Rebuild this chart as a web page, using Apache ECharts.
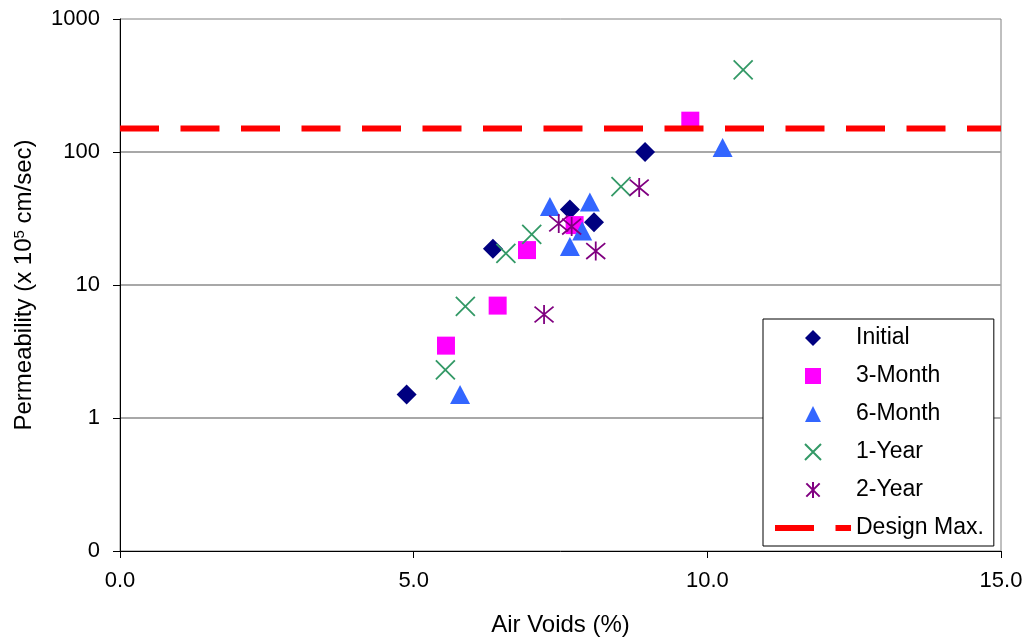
<!DOCTYPE html>
<html>
<head>
<meta charset="utf-8">
<script src="https://cdn.jsdelivr.net/npm/echarts@6/dist/echarts.min.js"></script>
<style>
  html, body { margin: 0; padding: 0; background: #ffffff; }
  #chart { width: 1029px; height: 642px; }
</style>
</head>
<body>
<div id="chart"></div>
<script>
// Air voids (%) vs. permeability (x 10^5 cm/sec), one list per test age
const initial = [[4.88, 1.5], [6.35, 18.7], [7.66, 37], [8.07, 29.6], [8.94, 100]];
const month3  = [[5.55, 3.5], [6.43, 7.0], [6.93, 18.3], [7.74, 28.2], [9.71, 172]];
const month6  = [[5.79, 1.5], [7.32, 39], [7.66, 19.5], [7.87, 25.5], [8.00, 42], [10.26, 108]];
const year1   = [[5.54, 2.3], [5.88, 6.9], [6.57, 17.3], [7.01, 24], [8.53, 55], [10.61, 415]];
const year2   = [[7.22, 6.0], [7.47, 29], [7.69, 27.5], [8.10, 18], [8.84, 54]];

// design limit drawn across the full x range
const designMax = 150;
const xRange = [0, 15];
const yRange = [0.1, 1000];

const seriesNames = ['Initial', '3-Month', '6-Month', '1-Year', '2-Year', 'Design Max.'];

const FONT = 'Liberation Sans, Arial, sans-serif';
const X_MARK = 'path://M0,0L10,10M10,0L0,10';
const STAR_MARK = 'path://M0,0L10,10M10,0L0,10M5,-1L5,11';
const DASH = [39, 21.5];

// square-proportioned legend icons (legend boxes are wider than tall)
const legendIcons = {
  'Initial': 'path://M5,0L10,5L5,10L0,5Z',
  '3-Month': 'path://M0,0L10,0L10,10L0,10Z',
  '6-Month': 'path://M5,0L10,10L0,10Z'
};

const chart = echarts.init(document.getElementById('chart'), null, { renderer: 'canvas' });

chart.setOption({
  backgroundColor: '#ffffff',
  animation: false,
  textStyle: { fontFamily: FONT, color: '#000' },
  grid: {
    left: 120, top: 19, right: 28, bottom: 91,
    show: true, borderColor: '#808080', borderWidth: 1, backgroundColor: '#ffffff'
  },
  xAxis: {
    type: 'value',
    min: xRange[0], max: xRange[1], interval: 5,
    name: 'Air Voids (%)',
    nameLocation: 'middle', nameGap: 62,
    nameTextStyle: { fontSize: 24, color: '#000', fontFamily: FONT },
    axisLine: { show: true, onZero: false, lineStyle: { color: '#000', width: 1 } },
    axisTick: { show: true, inside: false, length: 7, lineStyle: { color: '#000' } },
    axisLabel: {
      fontSize: 22, color: '#000', fontFamily: FONT, margin: 19,
      formatter: v => v.toFixed(1)
    },
    splitLine: { show: false }
  },
  yAxis: {
    type: 'log', logBase: 10,
    min: yRange[0], max: yRange[1],
    name: 'Permeability (x 10{sup|5} cm/sec)',
    nameLocation: 'middle', nameGap: 84, nameRotate: 90,
    nameTextStyle: {
      fontSize: 24, color: '#000', fontFamily: FONT,
      rich: { sup: { fontSize: 15, verticalAlign: 'top', fontFamily: FONT, color: '#000' } }
    },
    axisLine: { show: true, onZero: false, lineStyle: { color: '#000', width: 1 } },
    axisTick: { show: true, inside: false, length: 7, lineStyle: { color: '#000' } },
    axisLabel: {
      fontSize: 22, color: '#000', fontFamily: FONT, margin: 20,
      formatter: v => (v < 1 ? '0' : String(Math.round(v)))
    },
    minorTick: { show: false },
    splitLine: {
      show: true, showMinLine: false, showMaxLine: false,
      lineStyle: { color: '#a8a8a8', width: 2 }
    }
  },
  legend: {
    orient: 'vertical',
    left: 763, top: 319,
    padding: [7, 10, 6, 9],
    itemGap: 14,
    itemWidth: 76, itemHeight: 16,
    backgroundColor: '#ffffff',
    borderColor: '#000', borderWidth: 1,
    textStyle: { fontSize: 23, fontFamily: FONT, color: '#000', lineHeight: 24 },
    data: seriesNames.map(n => {
      if (n === 'Design Max.') {
        return {
          name: n,
          lineStyle: { width: 6, color: '#ff0000', type: DASH },
          itemStyle: { color: 'rgba(0,0,0,0)', borderWidth: 0, opacity: 0 }
        };
      }
      return legendIcons[n] ? { name: n, icon: legendIcons[n] } : { name: n };
    })
  },
  series: [
    {
      name: 'Design Max.',
      type: 'line',
      data: [[xRange[0], designMax], [xRange[1], designMax]],
      symbol: 'none',
      silent: true,
      lineStyle: { color: '#ff0000', width: 6, type: DASH, cap: 'butt' },
      itemStyle: { color: '#ff0000' }
    },
    {
      name: 'Initial', type: 'scatter', data: initial,
      symbol: 'diamond', symbolSize: 20,
      itemStyle: { color: '#000080', opacity: 1 }
    },
    {
      name: '3-Month', type: 'scatter', data: month3,
      symbol: 'rect', symbolSize: 18,
      itemStyle: { color: '#ff00ff', opacity: 1 }
    },
    {
      name: '6-Month', type: 'scatter', data: month6,
      symbol: 'triangle', symbolSize: [20, 19],
      itemStyle: { color: '#3366ff', opacity: 1 }
    },
    {
      name: '1-Year', type: 'scatter', data: year1,
      symbol: X_MARK, symbolSize: 19,
      itemStyle: { color: '#339966', borderColor: '#339966', borderWidth: 1.8, opacity: 1 }
    },
    {
      name: '2-Year', type: 'scatter', data: year2,
      symbol: STAR_MARK, symbolSize: 19,
      itemStyle: { color: '#800080', borderColor: '#800080', borderWidth: 1.8, opacity: 1 }
    }
  ]
});
</script>
</body>
</html>
